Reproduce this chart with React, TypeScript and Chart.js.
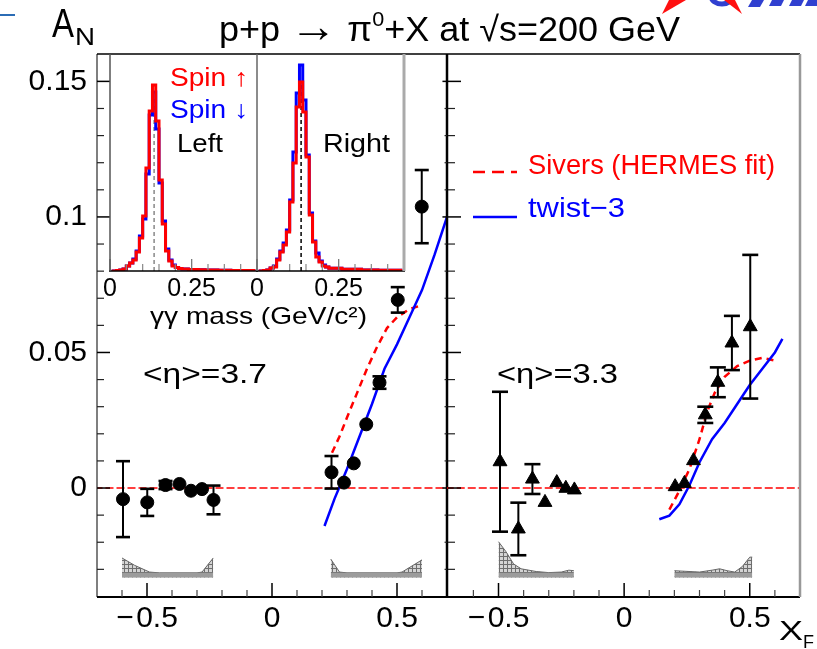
import React, { useEffect, useRef } from "react";
import { Chart, registerables } from "chart.js";

Chart.register(...registerables);

const FONT = "'Liberation Sans', Arial, sans-serif";

// ---------------- Main panels: A_N vs x_F ----------------
// <eta> = 3.7 (left panel, circles)
const leftXF = [-0.596, -0.499, -0.426, -0.37, -0.324, -0.28, -0.234, 0.238, 0.288, 0.327, 0.377, 0.43, 0.503, 0.599];
const leftAN = [-0.0041, -0.0053, 0.0011, 0.0015, -0.001, -0.0004, -0.0044, 0.0058, 0.002, 0.0091, 0.0235, 0.0389, 0.0694, 0.1038];
const leftErr = [0.014, 0.005, 0.0015, 0, 0, 0, 0.0053, 0.006, 0, 0, 0, 0.0023, 0.0047, 0.0135];

// <eta> = 3.3 (right panel, triangles)
const rightXF = [-0.494, -0.421, -0.365, -0.315, -0.268, -0.232, -0.198, 0.203, 0.24, 0.276, 0.323, 0.373, 0.429, 0.502];
const rightAN = [0.0097, -0.0151, 0.0033, -0.0053, 0.002, -0.0001, -0.0007, 0.0005, 0.0017, 0.0101, 0.027, 0.039, 0.0535, 0.0595];
const rightErr = [0.0258, 0.0097, 0.0055, 0, 0, 0, 0, 0, 0, 0, 0.003, 0.0055, 0.01, 0.0265];

// Theory curves
const siversLeftX = [0.24, 0.27, 0.3, 0.34, 0.38, 0.42, 0.46, 0.5, 0.55, 0.6];
const siversLeftY = [0.013, 0.019, 0.026, 0.035, 0.044, 0.052, 0.059, 0.063, 0.066, 0.0675];
const twistLeftX = [0.21, 0.25, 0.3, 0.35, 0.4, 0.45, 0.5, 0.55, 0.6, 0.65, 0.7];
const twistLeftY = [-0.014, -0.004, 0.007, 0.019, 0.031, 0.044, 0.053, 0.063, 0.073, 0.086, 0.1];
const siversRightX = [0.18, 0.22, 0.26, 0.3, 0.33, 0.36, 0.4, 0.45, 0.5, 0.55, 0.6];
const siversRightY = [-0.008, -0.001, 0.007, 0.018, 0.028, 0.035, 0.041, 0.045, 0.047, 0.048, 0.047];
const twistRightX = [0.14, 0.18, 0.22, 0.26, 0.3, 0.35, 0.4, 0.45, 0.5, 0.55, 0.6, 0.63];
const twistRightY = [-0.0115, -0.0102, -0.006, 0.001, 0.0095, 0.018, 0.024, 0.031, 0.038, 0.044, 0.05, 0.055];

// zero reference line
const zeroLineX = [-0.71, 0.71];
const zeroLineY = [0, 0];

// systematic bands (bottom of panels)
const BAND_BASE = -0.033;
const BAND_TOP = -0.0313;
const bandLNegX = [-0.6, -0.55, -0.49, -0.45, -0.3, -0.28, -0.235];
const bandLNegY = [-0.0258, -0.0285, -0.031, -0.0313, -0.0313, -0.031, -0.0258];
const bandLPosX = [0.235, 0.27, 0.3, 0.5, 0.52, 0.6];
const bandLPosY = [-0.0262, -0.031, -0.0313, -0.0313, -0.031, -0.0265];
const bandRNegX = [-0.5, -0.47, -0.44, -0.41, -0.35, -0.3, -0.25, -0.22, -0.2];
const bandRNegY = [-0.0198, -0.0235, -0.028, -0.0298, -0.0308, -0.0312, -0.031, -0.0303, -0.0305];
const bandRPosX = [0.2, 0.3, 0.35, 0.38, 0.41, 0.44, 0.47, 0.5, 0.51];
const bandRPosY = [-0.0305, -0.031, -0.0303, -0.0298, -0.0305, -0.031, -0.029, -0.0255, -0.0255];

// axes
const Y_MIN = -0.0402;
const Y_MAX = 0.1601;
const yMajorTicks = [0, 0.05, 0.1, 0.15];
const yTickLabels = ["0", "0.05", "0.1", "0.15"];
const yMinorTicks = [-0.03, -0.02, -0.01, 0.01, 0.02, 0.03, 0.04, 0.06, 0.07, 0.08, 0.09, 0.11, 0.12, 0.13, 0.14];
const xMajorTicks = [-0.5, 0, 0.5];
const xTickLabels = ["\u2212\u200a0.5", "0", "0.5"];
const xMinorTicks = [-0.6, -0.4, -0.3, -0.2, -0.1, 0.1, 0.2, 0.3, 0.4, 0.6];

// ---------------- Inset: gamma-gamma invariant mass ----------------
const massBins = [0.005, 0.015, 0.025, 0.035, 0.045, 0.055, 0.065, 0.075, 0.085, 0.095, 0.105, 0.115, 0.125, 0.135, 0.145, 0.155, 0.165, 0.175, 0.185, 0.195, 0.205, 0.215, 0.225, 0.235, 0.245, 0.255, 0.265, 0.275, 0.285, 0.295, 0.305, 0.315, 0.325, 0.335, 0.345, 0.355, 0.365, 0.375, 0.385, 0.395, 0.405, 0.415, 0.425, 0.435, 0.445];
const leftSpinUp = [0, 0, 0.5, 1, 2, 5, 8, 11, 19, 33, 55, 103, 160, 186, 150, 91, 47, 20, 10, 5, 3.5, 2.5, 2, 2, 1.5, 1.5, 1.5, 1.2, 1.2, 1, 1, 1, 1, 0.8, 0.8, 0.8, 0.8, 0.6, 0.6, 0.6, 0.5, 0.5, 0.5, 0.5, 0.5];
const leftSpinDown = [0, 0, 0.5, 1, 2, 5, 8, 12, 20, 35, 52, 97, 156, 179, 142, 88, 50, 22, 11, 6, 3.5, 2.5, 2, 2, 1.5, 1.5, 1.5, 1.2, 1.2, 1, 1, 1, 1, 0.8, 0.8, 0.8, 0.8, 0.6, 0.6, 0.6, 0.5, 0.5, 0.5, 0.5, 0.5];
const rightSpinUp = [0, 0, 0.5, 1, 3, 4, 11, 19, 26, 39, 69, 108, 164, 189, 159, 114, 56, 29, 14, 9, 5, 4, 2.7, 2.7, 2.7, 2.7, 1.7, 1.7, 1.7, 1.7, 1.7, 1.7, 1, 1, 1, 1, 1, 0.8, 0.8, 0.8, 0.8, 0.8, 0.8, 0.8, 0.8];
const rightSpinDown = [0, 0, 0.5, 1, 3, 5, 12, 20, 28, 41, 71, 119, 178, 206, 171, 116, 58, 30, 18, 10, 6, 4, 2.7, 2.7, 2.7, 2.7, 1.7, 1.7, 1.7, 1.7, 1.7, 1.7, 1, 1, 1, 1, 1, 0.8, 0.8, 0.8, 0.8, 0.8, 0.8, 0.8, 0.8];
const PI0_MASS = 0.135;
const leftPeakLine = [0, 174];
const rightPeakLine = [0, 189];
const INSET_YMAX = 217;
const insetTicks = [0, 0.25];
const insetTickLabels = ["0", "0.25"];
const insetMinorTicks = [0.05, 0.1, 0.15, 0.2, 0.3, 0.35, 0.4];

// ---------------- helpers ----------------
const pts = (xs: number[], ys: number[]) => xs.map((x, i) => ({ x, y: ys[i] }));

function fitText(ctx: any, text: string, x: number, y: number, width: number, size: number, color: string) {
  ctx.save();
  ctx.font = `${size}px ${FONT}`;
  ctx.fillStyle = color;
  ctx.textBaseline = "alphabetic";
  ctx.textAlign = "left";
  const w = ctx.measureText(text).width;
  ctx.translate(x, y);
  if (width && w > 0) ctx.scale(width / w, 1);
  ctx.fillText(text, 0, 0);
  ctx.restore();
}

function line(ctx: any, x1: number, y1: number, x2: number, y2: number, color: string, w: number, dash: number[] = []) {
  ctx.save();
  ctx.strokeStyle = color;
  ctx.lineWidth = w;
  ctx.setLineDash(dash);
  ctx.beginPath();
  ctx.moveTo(x1, y1);
  ctx.lineTo(x2, y2);
  ctx.stroke();
  ctx.restore();
}

function drawYTicks(ctx: any, chart: any, x: number, dir: number) {
  const ys = chart.scales.y;
  yMinorTicks.forEach((v) => {
    const p = ys.getPixelForValue(v);
    line(ctx, x, p, x + dir * 7, p, "#222", 1.2);
  });
  yMajorTicks.forEach((v) => {
    const p = ys.getPixelForValue(v);
    line(ctx, x, p, x + dir * 13, p, "#000", 1.5);
  });
}

function drawXTicks(ctx: any, chart: any) {
  const xs = chart.scales.x;
  const b = chart.chartArea.bottom;
  xMinorTicks.forEach((v) => {
    const p = xs.getPixelForValue(v);
    line(ctx, p, b, p, b - 7, "#444", 1.2);
  });
  xMajorTicks.forEach((v) => {
    const p = xs.getPixelForValue(v);
    line(ctx, p, b, p, b - 14, "#000", 1.5);
  });
}

const errorBarPlugin = {
  id: "errorBars",
  afterDatasetsDraw(chart: any) {
    const ctx = chart.ctx;
    const ys = chart.scales.y;
    chart.data.datasets.forEach((ds: any, i: number) => {
      if (!ds.errorBars) return;
      const meta = chart.getDatasetMeta(i);
      meta.data.forEach((el: any, j: number) => {
        const e = ds.errorBars[j];
        if (!e) return;
        const v = ds.data[j].y;
        const t = ys.getPixelForValue(v + e);
        const b = ys.getPixelForValue(v - e);
        const h = ds.capHalf;
        line(ctx, el.x, t, el.x, b, "#000", 2);
        line(ctx, el.x - h, t, el.x + h, t, "#000", 2.6);
        line(ctx, el.x - h, b, el.x + h, b, "#000", 2.6);
      });
    });
  },
};

function makeHatch(): any {
  const c = document.createElement("canvas");
  c.width = 4;
  c.height = 4;
  const g = c.getContext("2d");
  if (!g) return "#bbb";
  g.fillStyle = "#d4d4d4";
  g.fillRect(0, 0, 4, 4);
  g.fillStyle = "#6e6e6e";
  g.fillRect(0, 0, 4, 1);
  g.fillRect(0, 0, 1, 4);
  return g.createPattern(c, "repeat") || "#bbb";
}

function bandDatasets(xs: number[], ys: number[], hatch: any) {
  return [
    {
      data: pts([xs[0], xs[xs.length - 1]], [BAND_TOP, BAND_TOP]),
      showLine: true,
      borderWidth: 0,
      borderColor: "#999",
      pointRadius: 0,
      fill: { value: BAND_BASE },
      backgroundColor: "#9c9c9c",
    },
    {
      data: pts(xs, ys),
      showLine: true,
      borderColor: "#666",
      borderWidth: 1,
      pointRadius: 0,
      fill: { value: BAND_BASE },
      backgroundColor: hatch,
    },
  ];
}

function mainDatasets(xf: number[], an: number[], err: number[], style: string, radius: number, cap: number,
  twX: number[], twY: number[], svX: number[], svY: number[], bands: any[]) {
  return [
    {
      data: pts(xf, an),
      showLine: false,
      pointStyle: style,
      pointRadius: radius,
      pointBackgroundColor: "#000",
      pointBorderColor: "#000",
      pointBorderWidth: 1,
      errorBars: err,
      capHalf: cap,
    },
    { data: pts(twX, twY), showLine: true, borderColor: "#0000ff", borderWidth: 2.5, pointRadius: 0, fill: false },
    { data: pts(svX, svY), showLine: true, borderColor: "#ff0000", borderWidth: 2.5, borderDash: [7, 5], pointRadius: 0, fill: false },
    { data: pts(zeroLineX, zeroLineY), showLine: true, borderColor: "#ff0000", borderWidth: 1.5, borderDash: [8, 3], pointRadius: 0, fill: false },
    ...bands,
  ];
}

function xScale(min: number, max: number) {
  return {
    type: "linear",
    min,
    max,
    grid: { display: false, drawTicks: false },
    border: { display: false },
    afterBuildTicks: (s: any) => {
      s.ticks = xMajorTicks.map((v) => ({ value: v }));
    },
    afterFit: (s: any) => {
      s.height = 52;
      s.paddingLeft = 0;
      s.paddingRight = 0;
    },
    ticks: {
      autoSkip: false,
      maxRotation: 0,
      minRotation: 0,
      padding: 4,
      color: "#000",
      font: { family: FONT, size: 30 },
      callback: (_v: any, i: number) => xTickLabels[i],
    },
  };
}

function drawTitle(ctx: any) {
  const parts = [
    { t: "p+p ", size: 35, dy: 0 },
    { t: "\u2192", size: 46, dy: 1 },
    { t: " \u03c0", size: 35, dy: 0 },
    { t: "0", size: 21, dy: -15 },
    { t: "+X at \u221as=200 GeV", size: 35, dy: 0 },
  ];
  ctx.save();
  let total = 0;
  const ws = parts.map((p) => {
    ctx.font = `${p.size}px ${FONT}`;
    const w = ctx.measureText(p.t).width;
    total += w;
    return w;
  });
  ctx.translate(219, 41);
  ctx.scale(461 / total, 1);
  ctx.fillStyle = "#000";
  ctx.textBaseline = "alphabetic";
  let x = 0;
  parts.forEach((p, i) => {
    ctx.font = `${p.size}px ${FONT}`;
    ctx.fillText(p.t, x, p.dy);
    x += ws[i];
  });
  ctx.restore();
}

function poly(ctx: any, p: number[][], color: string) {
  ctx.save();
  ctx.fillStyle = color;
  ctx.beginPath();
  ctx.moveTo(p[0][0], p[0][1]);
  for (let i = 1; i < p.length; i++) ctx.lineTo(p[i][0], p[i][1]);
  ctx.closePath();
  ctx.fill();
  ctx.restore();
}

const leftDecor = {
  id: "leftDecor",
  afterDraw(chart: any) {
    const ctx = chart.ctx;
    const a = chart.chartArea;
    // frame
    line(ctx, a.left, a.top, a.left, a.bottom, "#555", 1.5);
    line(ctx, a.left, a.top, 800, a.top, "#000", 1.5);
    line(ctx, a.left, a.bottom, a.right, a.bottom, "#000", 2);
    line(ctx, a.right, a.top, a.right, a.bottom, "#000", 2.5);
    drawYTicks(ctx, chart, a.left, 1);
    drawYTicks(ctx, chart, a.right, -0.35);
    drawXTicks(ctx, chart);
    // title and axis title
    drawTitle(ctx);
    fitText(ctx, "A", 52, 37, 22, 40, "#000");
    fitText(ctx, "N", 75, 45, 20, 24, "#000");
    // slide decorations
    line(ctx, 0, 15, 15, 15, "#2b6cb5", 2);
    poly(ctx, [[662, 14], [669, 0], [686, 0]], "#ff1010");
    ctx.save();
    ctx.strokeStyle = "#3040d0";
    ctx.lineWidth = 5;
    ctx.beginPath();
    ctx.ellipse(722, -4, 11, 8, 0, 0, Math.PI);
    ctx.stroke();
    ctx.restore();
    poly(ctx, [[724, 0], [735, 0], [742, 14]], "#ff1010");
    poly(ctx, [[752, 0], [764, 0], [760, 7], [748, 7]], "#3040d0");
    poly(ctx, [[772, 0], [784, 0], [781, 6], [769, 6]], "#3040d0");
    poly(ctx, [[792, 0], [804, 0], [801, 6], [789, 6]], "#3040d0");
    poly(ctx, [[808, 0], [817, 0], [817, 6], [805, 6]], "#3040d0");
    // inset texts
    fitText(ctx, "Spin \u2191", 170, 86, 78, 25, "#ff0000");
    fitText(ctx, "Spin \u2193", 170, 118, 78, 25, "#0000ff");
    fitText(ctx, "Left", 177, 152, 46, 25, "#000");
    fitText(ctx, "Right", 323, 152, 67, 25, "#000");
    fitText(ctx, "\u03b3\u03b3 mass (GeV/c\u00b2)", 150, 324, 217, 24, "#000");
    // eta label
    fitText(ctx, "<\u03b7>=3.7", 143, 383, 124, 28, "#000");
  },
};

const rightDecor = {
  id: "rightDecor",
  afterDraw(chart: any) {
    const ctx = chart.ctx;
    const a = chart.chartArea;
    line(ctx, a.left, a.bottom, a.right, a.bottom, "#000", 2);
    line(ctx, a.right, a.top, a.right, a.bottom, "#999", 2.5);
    drawYTicks(ctx, chart, a.left + 1, 1);
    drawXTicks(ctx, chart);
    // legend
    line(ctx, 473 - 447, 172, 517 - 447, 172, "#ff0000", 2.5, [12, 7]);
    fitText(ctx, "Sivers (HERMES fit)", 528 - 447, 174, 247, 28, "#ff0000");
    line(ctx, 473 - 447, 217, 517 - 447, 217, "#0000ff", 2.5);
    fitText(ctx, "twist\u22123", 528 - 447, 217, 97, 28, "#0000ff");
    // eta label
    fitText(ctx, "<\u03b7>=3.3", 497 - 447, 383, 121, 28, "#000");
    // x axis title
    fitText(ctx, "X", 779 - 447, 640, 24, 28, "#000");
    fitText(ctx, "F", 803 - 447, 648, 11, 18, "#000");
  },
};

function insetConfig(up: number[], down: number[], peak: number[], dashColor: string, padL: number, padR: number, isLeft: boolean) {
  const decor = {
    id: "insetDecor",
    afterDraw(chart: any) {
      const ctx = chart.ctx;
      const a = chart.chartArea;
      const xs = chart.scales.x;
      insetMinorTicks.forEach((v) => {
        const p = xs.getPixelForValue(v);
        line(ctx, p, a.bottom, p, a.bottom - 7, "#888", 1.2);
      });
      insetTicks.forEach((v) => {
        const p = xs.getPixelForValue(v);
        line(ctx, p, a.bottom, p, a.bottom - 12, "#777", 1.3);
      });
      line(ctx, a.left - 1, a.bottom, a.right + 1, a.bottom, "#000", 1.5);
      line(ctx, a.left, a.top, a.left, a.bottom, isLeft ? "#555" : "#666", 1.5);
      if (!isLeft) line(ctx, a.right, a.top, a.right, a.bottom, "#aaa", 3);
    },
  };
  return {
    type: "line",
    data: {
      datasets: [
        { data: pts(massBins, up), stepped: "middle", borderColor: "#ff0000", borderWidth: 3, pointRadius: 0, fill: false },
        { data: pts(massBins, down), stepped: "middle", borderColor: "#0000ff", borderWidth: 3, pointRadius: 0, fill: false },
        { data: pts([PI0_MASS, PI0_MASS], peak), borderColor: dashColor, borderWidth: 1.5, borderDash: [4, 3], pointRadius: 0, fill: false },
      ],
    },
    options: {
      responsive: false,
      animation: false,
      devicePixelRatio: 1,
      events: [],
      layout: { autoPadding: false, padding: { left: padL, right: padR, top: 0, bottom: 0 } },
      plugins: { legend: { display: false }, tooltip: { enabled: false } },
      scales: {
        x: {
          type: "linear",
          min: 0,
          max: 0.45,
          grid: { display: false, drawTicks: false },
          border: { display: false },
          afterBuildTicks: (s: any) => {
            s.ticks = insetTicks.map((v) => ({ value: v }));
          },
          afterFit: (s: any) => {
            s.height = 64;
            s.paddingLeft = 0;
            s.paddingRight = 0;
          },
          ticks: {
            autoSkip: false,
            maxRotation: 0,
            padding: 3,
            color: "#000",
            font: { family: FONT, size: 25 },
            callback: (_v: any, i: number) => insetTickLabels[i],
          },
        },
        y: { display: false, min: 0, max: INSET_YMAX },
      },
    },
    plugins: [decor],
  };
}

export default function App() {
  const mainRef = useRef<HTMLCanvasElement>(null);
  const rightRef = useRef<HTMLCanvasElement>(null);
  const insetLRef = useRef<HTMLCanvasElement>(null);
  const insetRRef = useRef<HTMLCanvasElement>(null);

  useEffect(() => {
    const charts: Chart[] = [];
    const hatch = makeHatch();
    const common = {
      responsive: false,
      animation: false,
      devicePixelRatio: 1,
      events: [],
      plugins: { legend: { display: false }, tooltip: { enabled: false } },
    };

    if (mainRef.current) {
      charts.push(
        new Chart(mainRef.current, {
          type: "line",
          data: {
            datasets: mainDatasets(leftXF, leftAN, leftErr, "circle", 6.5, 7,
              twistLeftX, twistLeftY, siversLeftX, siversLeftY,
              [...bandDatasets(bandLNegX, bandLNegY, hatch), ...bandDatasets(bandLPosX, bandLPosY, hatch)]) as any,
          },
          options: {
            ...common,
            layout: { autoPadding: false, padding: { left: 0, top: 54, right: 370, bottom: 0 } },
            scales: {
              x: xScale(-0.7, 0.7) as any,
              y: {
                type: "linear",
                min: Y_MIN,
                max: Y_MAX,
                grid: { display: false, drawTicks: false },
                border: { display: false },
                afterBuildTicks: (s: any) => {
                  s.ticks = yMajorTicks.map((v) => ({ value: v }));
                },
                afterFit: (s: any) => {
                  s.width = 97;
                },
                ticks: {
                  autoSkip: false,
                  padding: 10,
                  color: "#000",
                  font: { family: FONT, size: 30 },
                  callback: (_v: any, i: number) => yTickLabels[i],
                },
              },
            },
          } as any,
          plugins: [errorBarPlugin, leftDecor],
        })
      );
    }

    if (rightRef.current) {
      charts.push(
        new Chart(rightRef.current, {
          type: "line",
          data: {
            datasets: mainDatasets(rightXF, rightAN, rightErr, "triangle", 8, 8,
              twistRightX, twistRightY, siversRightX, siversRightY,
              [...bandDatasets(bandRNegX, bandRNegY, hatch), ...bandDatasets(bandRPosX, bandRPosY, hatch)]) as any,
          },
          options: {
            ...common,
            layout: { autoPadding: false, padding: { left: 0, top: 54, right: 17, bottom: 0 } },
            scales: {
              x: xScale(-0.705, 0.7) as any,
              y: { display: false, type: "linear", min: Y_MIN, max: Y_MAX },
            },
          } as any,
          plugins: [errorBarPlugin, rightDecor],
        })
      );
    }

    if (insetLRef.current) {
      charts.push(new Chart(insetLRef.current, insetConfig(leftSpinUp, leftSpinDown, leftPeakLine, "#888", 15, 3, true) as any));
    }
    if (insetRRef.current) {
      charts.push(new Chart(insetRRef.current, insetConfig(rightSpinUp, rightSpinDown, rightPeakLine, "#000", 12, 16, false) as any));
    }

    return () => charts.forEach((c) => c.destroy());
  }, []);

  return (
    <div style={{ position: "absolute", left: 0, top: 0, width: 817, height: 649, background: "#fff", overflow: "hidden" }}>
      <canvas ref={mainRef} width={817} height={649} style={{ position: "absolute", left: 0, top: 0 }} />
      <canvas ref={rightRef} width={370} height={649} style={{ position: "absolute", left: 447, top: 0 }} />
      <canvas ref={insetLRef} width={165} height={281} style={{ position: "absolute", left: 95, top: 54 }} />
      <canvas ref={insetRRef} width={175} height={281} style={{ position: "absolute", left: 245, top: 54 }} />
    </div>
  );
}
